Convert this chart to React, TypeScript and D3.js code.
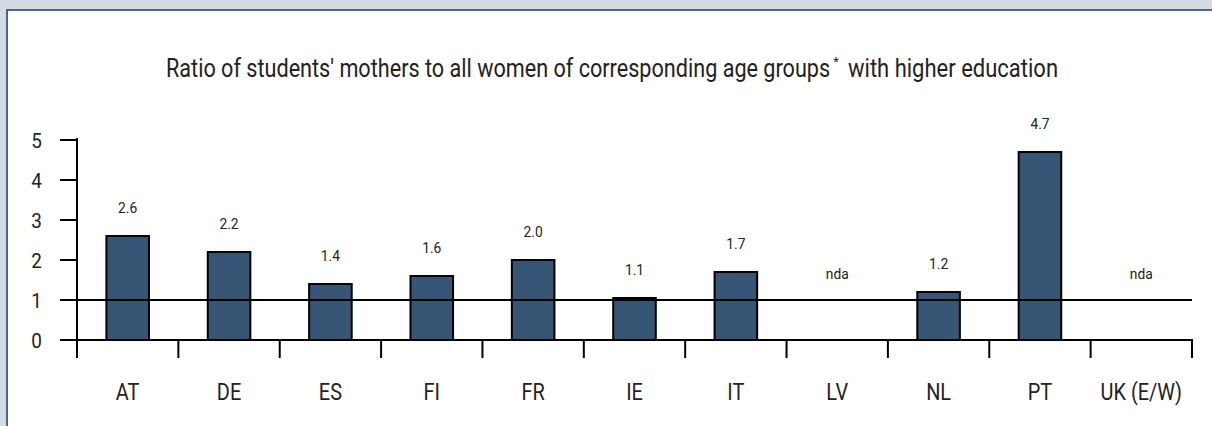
import React, { useLayoutEffect, useRef, useState } from "react";
import * as d3 from "d3";

const categories = ["AT", "DE", "ES", "FI", "FR", "IE", "IT", "LV", "NL", "PT", "UK (E/W)"];
const values: (number | null)[] = [2.6, 2.2, 1.4, 1.6, 2.0, 1.05, 1.7, null, 1.2, 4.7, null];
const valueLabels = ["2.6", "2.2", "1.4", "1.6", "2.0", "1.1", "1.7", "nda", "1.2", "4.7", "nda"];
const yTicks = [0, 1, 2, 3, 4, 5];
const titleMain = "Ratio of students' mothers to all women of corresponding age groups";
const titleTail = "with higher education";

const W = 1212;
const H = 426;
const FONT = "Roboto, 'DejaVu Sans Condensed', sans-serif";
const INK = "#222222";

export default function App() {
  const x = d3.scaleBand<string>().domain(categories).range([77, 1192]).padding(0);
  const y = d3.scaleLinear().domain([0, 5]).range([340, 140]);
  const bw = x.bandwidth() * 0.42;
  const step = x.step();

  const mainRef = useRef<SVGTextElement>(null);
  const tailRef = useRef<SVGTextElement>(null);
  const [sx, setSx] = useState<[number, number]>([0.82, 0.82]);

  useLayoutEffect(() => {
    const a = mainRef.current ? mainRef.current.getComputedTextLength() : 0;
    const b = tailRef.current ? tailRef.current.getComputedTextLength() : 0;
    setSx([a > 0 ? 664 / a : 0.82, b > 0 ? 210 / b : 0.82]);
  }, []);

  return (
    <div style={{ position: "fixed", left: 0, top: 0 }}>
      <svg width={W} height={H} style={{ display: "block" }}>
        <rect x={0} y={0} width={W} height={H} fill="#d3dbe3" />
        <rect x={7} y={10} width={W + 20} height={H + 20} fill="#ffffff" stroke="#4b668a" strokeWidth={2} />
        <g transform={`translate(166,77) scale(${sx[0]},1)`}>
          <text ref={mainRef} fontFamily={FONT} fontSize={26} fill={INK}>
            {titleMain}
          </text>
        </g>
        <text x={836} y={66} textAnchor="middle" fontFamily={FONT} fontSize={13} fill={INK}>
          *
        </text>
        <g transform={`translate(848,77) scale(${sx[1]},1)`}>
          <text ref={tailRef} fontFamily={FONT} fontSize={26} fill={INK}>
            {titleTail}
          </text>
        </g>
        {/* y axis */}
        <line x1={77} x2={77} y1={y(0)} y2={y(5) - 2} stroke="#000" strokeWidth={2} />
        {yTicks.map((t) => (
          <g key={t}>
            <line x1={60} x2={77} y1={y(t)} y2={y(t)} stroke="#000" strokeWidth={2} />
            <g transform={`translate(42,${y(t) + 7.5}) scale(0.9,1)`}>
              <text textAnchor="end" fontFamily={FONT} fontSize={21} fill={INK}>
                {t}
              </text>
            </g>
          </g>
        ))}
        {/* bars */}
        {categories.map((c, i) => {
          const v = values[i];
          const cx = (x(c) as number) + step / 2;
          const ly = v !== null ? y(v) - 23 : y(1) - 21;
          return (
            <g key={c}>
              {v !== null && (
                <rect
                  x={cx - bw / 2}
                  y={y(v)}
                  width={bw}
                  height={y(0) - y(v)}
                  fill="#375574"
                  stroke="#000"
                  strokeWidth={2}
                />
              )}
              <g transform={`translate(${cx},${ly}) scale(0.92,1)`}>
                <text textAnchor="middle" fontFamily={FONT} fontSize={15} fill={INK}>
                  {valueLabels[i]}
                </text>
              </g>
              <g transform={`translate(${cx},400) scale(0.83,1)`}>
                <text textAnchor="middle" fontFamily={FONT} fontSize={24} fill={INK}>
                  {c}
                </text>
              </g>
            </g>
          );
        })}
        {/* reference line at 1 */}
        <line x1={60} x2={1192} y1={y(1)} y2={y(1)} stroke="#000" strokeWidth={2} />
        {/* x axis */}
        <line x1={60} x2={1193} y1={y(0)} y2={y(0)} stroke="#000" strokeWidth={2} />
        {[...categories.map((c) => x(c) as number), 1192].map((b, i) => (
          <line key={i} x1={b} x2={b} y1={y(0)} y2={358} stroke="#000" strokeWidth={2} />
        ))}
      </svg>
    </div>
  );
}
